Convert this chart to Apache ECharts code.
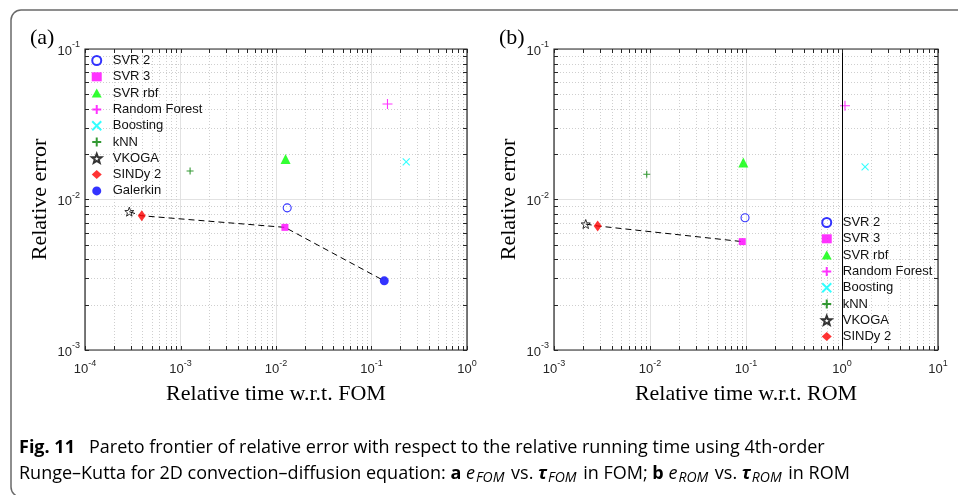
<!DOCTYPE html>
<html><head><meta charset="utf-8">
<script src="https://cdn.jsdelivr.net/npm/echarts@6/dist/echarts.min.js"></script>
<style>html,body{margin:0;padding:0;background:#fff}#c{width:958px;height:495px}</style>
</head><body><div id="c"></div>
<script>
// ---- data ----
const fomMethods = ['SVR 2','SVR 3','SVR rbf','Random Forest','Boosting','kNN','VKOGA','SINDy 2','Galerkin'];
const fomTime  = [0.0131, 0.0124, 0.0126, 0.147, 0.231, 0.00126, 0.000291, 0.000393, 0.136];
const fomError = [0.0088, 0.00653, 0.0186, 0.0431, 0.0178, 0.01546, 0.0083, 0.0078, 0.00288];
const fomFrontier = ['VKOGA','SINDy 2','SVR 3','Galerkin'];

const romMethods = ['SVR 2','SVR 3','SVR rbf','Random Forest','Boosting','kNN','VKOGA','SINDy 2'];
const romTime  = [0.0977, 0.0914, 0.0937, 1.074, 1.74, 0.00925, 0.00214, 0.00285];
const romError = [0.00757, 0.00525, 0.0176, 0.042, 0.0165, 0.0147, 0.00687, 0.00667];
const romFrontier = ['VKOGA','SINDy 2','SVR 3'];
const romRefTime = [1];

const fomXRange = [1e-4, 1];
const romXRange = [1e-3, 10];
const errRange  = [1e-3, 1e-1];

const xNameFom = 'Relative time w.r.t. FOM';
const xNameRom = 'Relative time w.r.t. ROM';
const yName = 'Relative error';
const panelLabels = ['(a)', '(b)'];
const captionLine1 = 'Pareto frontier of relative error with respect to the relative running time using 4th-order';

// ---- styles ----
const PLUS = 'path://M5,0L5,10M0,5L10,5';
const CROSS = 'path://M0,0L10,10M0,10L10,0';
function starPath(){
  let d = '';
  for (let i = 0; i < 10; i++) {
    const r = i % 2 === 0 ? 10 : 4.2;
    const a = -Math.PI / 2 + i * Math.PI / 5;
    d += (i === 0 ? 'M' : 'L') + (10 + r * Math.cos(a)).toFixed(2) + ',' + (10 + r * Math.sin(a)).toFixed(2);
  }
  return 'path://' + d + 'Z';
}
const STAR = starPath();
const markerStyle = {
  'SVR 2': {symbol:'circle', symbolSize:8, itemStyle:{color:'rgba(255,255,255,0)', borderColor:'#0000ff', borderWidth:1.1}},
  'SVR 3': {symbol:'rect', symbolSize:7, itemStyle:{color:'#ff00ff'}},
  'SVR rbf': {symbol:'triangle', symbolSize:10, itemStyle:{color:'#00ff00'}},
  'Random Forest': {symbol:PLUS, symbolSize:10, itemStyle:{color:'#ff00ff', borderColor:'#ff00ff', borderWidth:1.1}},
  'Boosting': {symbol:CROSS, symbolSize:7, itemStyle:{color:'#00ffff', borderColor:'#00ffff', borderWidth:1.1}},
  'kNN': {symbol:PLUS, symbolSize:7, itemStyle:{color:'#008000', borderColor:'#008000', borderWidth:1.1}},
  'VKOGA': {symbol:STAR, symbolSize:9, itemStyle:{color:'rgba(255,255,255,0)', borderColor:'#000', borderWidth:1}},
  'SINDy 2': {symbol:'diamond', symbolSize:[8,11], itemStyle:{color:'#ff0000'}},
  'Galerkin': {symbol:'circle', symbolSize:9, itemStyle:{color:'#0000ff'}}
};

const SANS = 'Liberation Sans, Arial, sans-serif';
const SERIF = 'Liberation Serif, Times New Roman, serif';
const CAPF = 'Open Sans, Noto Sans, sans-serif';
const AXC = '#262626';

function minorValues(range){
  const out = [];
  const lo = Math.round(Math.log10(range[0])), hi = Math.round(Math.log10(range[1]));
  for (let d = lo; d < hi; d++) for (let k = 2; k <= 9; k++) out.push(k * Math.pow(10, d));
  return out;
}
function majorValues(range){
  const out = [];
  const lo = Math.round(Math.log10(range[0])), hi = Math.round(Math.log10(range[1]));
  for (let d = lo; d <= hi; d++) out.push(Math.pow(10, d));
  return out;
}

function gridRenderer(xr, yr, kind){
  return function(params, api){
    const ch = [];
    const p00 = api.coord([xr[0], yr[0]]);
    const p11 = api.coord([xr[1], yr[1]]);
    const L = p00[0], R = p11[0], B = p00[1], T = p11[1];
    if (kind === 'minor') {
      minorValues(xr).forEach(v => {
        const x = Math.round(api.coord([v, yr[0]])[0]) + 0.5;
        ch.push({type:'line', shape:{x1:x, y1:T, x2:x, y2:B}, style:{stroke:'#cfcfcf', lineWidth:1, lineDash:[1,2]}});
      });
      minorValues(yr).forEach(v => {
        const y = Math.round(api.coord([xr[0], v])[1]) + 0.5;
        ch.push({type:'line', shape:{x1:L, y1:y, x2:R, y2:y}, style:{stroke:'#cfcfcf', lineWidth:1, lineDash:[1,2]}});
      });
    } else {
      const tl = 4;
      const xs = majorValues(xr).concat(minorValues(xr));
      const ys = majorValues(yr).concat(minorValues(yr));
      xs.forEach(v => {
        const x = Math.round(api.coord([v, yr[0]])[0]) + 0.5;
        ch.push({type:'line', shape:{x1:x, y1:B, x2:x, y2:B - tl}, style:{stroke:AXC, lineWidth:1}});
        ch.push({type:'line', shape:{x1:x, y1:T, x2:x, y2:T + tl}, style:{stroke:AXC, lineWidth:1}});
      });
      ys.forEach(v => {
        const y = Math.round(api.coord([xr[0], v])[1]) + 0.5;
        ch.push({type:'line', shape:{x1:L, y1:y, x2:L + tl, y2:y}, style:{stroke:AXC, lineWidth:1}});
        ch.push({type:'line', shape:{x1:R, y1:y, x2:R - tl, y2:y}, style:{stroke:AXC, lineWidth:1}});
      });
      ch.push({type:'rect', shape:{x:L, y:T, width:R - L, height:B - T}, style:{fill:'none', stroke:AXC, lineWidth:1.2}});
    }
    return {type:'group', children:ch};
  };
}

function expLabel(v){
  const e = Math.round(Math.log10(v));
  return '{b|10}{s|' + e + '}';
}
const labelRich = {
  b: {fontSize:13, fontFamily:SANS, color:AXC, lineHeight:17, verticalAlign:'bottom'},
  s: {fontSize:9, fontFamily:SANS, color:AXC, lineHeight:10, verticalAlign:'top'}
};

function makeAxisX(idx, range, name){
  return {
    type:'log', logBase:10, gridIndex:idx, min:range[0], max:range[1],
    name:name, nameLocation:'middle', nameGap:33,
    nameTextStyle:{fontFamily:SERIF, fontSize:22, color:'#000'},
    axisLine:{show:false}, axisTick:{show:false},
    axisLabel:{formatter:expLabel, rich:labelRich, margin:9},
    splitLine:{show:true, lineStyle:{color:'#e2e2e2', width:1}}
  };
}
function makeAxisY(idx, range){
  return {
    type:'log', logBase:10, gridIndex:idx, min:range[0], max:range[1],
    name:yName, nameLocation:'middle', nameGap:34,
    nameTextStyle:{fontFamily:SERIF, fontSize:22, color:'#000'},
    axisLine:{show:false}, axisTick:{show:false},
    axisLabel:{formatter:expLabel, rich:labelRich, margin:5},
    splitLine:{show:true, lineStyle:{color:'#e2e2e2', width:1}}
  };
}

function scatterSeries(idx, names, times, errs){
  return names.map((n, i) => Object.assign({
    type:'scatter', name:n, xAxisIndex:idx, yAxisIndex:idx, z:4,
    data:[[times[i], errs[i]]], emphasis:{disabled:true}
  }, JSON.parse(JSON.stringify(markerStyle[n]))));
}
function frontierSeries(idx, frontier, names, times, errs, extra){
  const s = {
    type:'line', xAxisIndex:idx, yAxisIndex:idx, z:3, symbol:'none', silent:true,
    lineStyle:{color:'#000', width:1, type:[6,4]},
    data: frontier.map(n => { const i = names.indexOf(n); return [times[i], errs[i]]; })
  };
  return Object.assign(s, extra || {});
}

const series = [].concat(
  [{type:'custom', xAxisIndex:0, yAxisIndex:0, z:1, silent:true, data:[[1e-2,1e-2]], renderItem:gridRenderer(fomXRange, errRange, 'minor')},
   {type:'custom', xAxisIndex:1, yAxisIndex:1, z:1, silent:true, data:[[1e-1,1e-2]], renderItem:gridRenderer(romXRange, errRange, 'minor')}],
  [frontierSeries(0, fomFrontier, fomMethods, fomTime, fomError),
   frontierSeries(1, romFrontier, romMethods, romTime, romError, {
     markLine:{silent:true, symbol:'none', label:{show:false}, animation:false,
       lineStyle:{color:'#000', width:1, type:'solid'},
       data: romRefTime.map(t => ({xAxis:t}))}
   })],
  scatterSeries(0, fomMethods, fomTime, fomError),
  scatterSeries(1, romMethods, romTime, romError),
  [{type:'custom', xAxisIndex:0, yAxisIndex:0, z:6, silent:true, data:[[1e-2,1e-2]], renderItem:gridRenderer(fomXRange, errRange, 'box')},
   {type:'custom', xAxisIndex:1, yAxisIndex:1, z:6, silent:true, data:[[1e-1,1e-2]], renderItem:gridRenderer(romXRange, errRange, 'box')}]
);

const legendCommon = {
  orient:'vertical', itemWidth:10, itemHeight:9, itemGap:3.3, selectedMode:false, symbolKeepAspect:true,
  textStyle:{fontFamily:SANS, fontSize:13, color:'#111', lineHeight:13, padding:[0,0,0,6]}, padding:0
};

const CAPC = '#231f20';
const capRich = {
  n:{fontFamily:CAPF, fontSize:18, color:CAPC, lineHeight:22},
  bo:{fontFamily:CAPF, fontSize:18, fontWeight:'bold', color:CAPC, lineHeight:22},
  it:{fontFamily:CAPF, fontSize:18, fontStyle:'italic', color:CAPC, lineHeight:22},
  bi:{fontFamily:CAPF, fontSize:18, fontStyle:'italic', fontWeight:'bold', color:CAPC, lineHeight:22},
  sub:{fontFamily:CAPF, fontSize:14, fontStyle:'italic', color:CAPC, lineHeight:16, verticalAlign:'bottom', padding:[0,2,0,1]}
};

const option = {
  animation:false,
  backgroundColor:'#fff',
  grid:[
    {left:85, top:49, width:382, height:301},
    {left:554, top:49, width:384, height:301}
  ],
  xAxis:[makeAxisX(0, fomXRange, xNameFom), makeAxisX(1, romXRange, xNameRom)],
  yAxis:[makeAxisY(0, errRange), makeAxisY(1, errRange)],
  legend:[
    Object.assign({left:91, top:54, data:fomMethods}, legendCommon),
    Object.assign({left:821, top:216, data:romMethods}, legendCommon)
  ],
  graphic:[
    {type:'rect', z:100, silent:true, shape:{x:11, y:10, width:1000, height:487, r:10}, style:{fill:'none', stroke:'#6a6a6a', lineWidth:1.5}},
    {type:'text', left:30, top:27, style:{text:panelLabels[0], font:'22px ' + SERIF, fill:'#000'}},
    {type:'text', left:499, top:27, style:{text:panelLabels[1], font:'22px ' + SERIF, fill:'#000'}},
    {type:'text', left:19, top:439, style:{
      text:'{bo|Fig. 11}{n|   ' + captionLine1 + '}', rich:capRich}},
    {type:'text', left:19, top:465, style:{
      text:'{n|Runge–Kutta for 2D convection–diffusion equation: }{bo|a }{it|e}{sub|FOM}{n| vs. }{bi|τ}{sub|FOM}{n| in FOM; }{bo|b }{it|e}{sub|ROM}{n| vs. }{bi|τ}{sub|ROM}{n| in ROM}',
      rich:capRich}}
  ],
  series: series
};

const chart = echarts.init(document.getElementById('c'), null, {renderer:'canvas'});
chart.setOption(option);
</script></body></html>
